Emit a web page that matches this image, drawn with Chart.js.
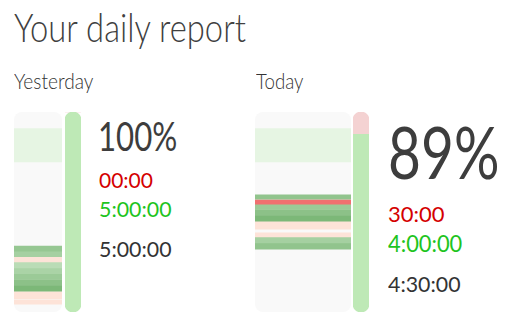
<!DOCTYPE html>
<html>
<head>
<meta charset="utf-8">
<script src="https://cdn.jsdelivr.net/npm/chart.js@4.4.1/dist/chart.umd.min.js"></script>
<style>
    body { margin: 0; background: #fff; font-family: Lato, sans-serif; color: #3a3a3a; }
    #page { position: relative; width: 512px; height: 320px; overflow: hidden; }
    .txt { position: absolute; white-space: nowrap; line-height: 1; transform-origin: 0 0; }
    .col { position: absolute; background: #f9f9f9; border-radius: 8px; overflow: hidden; }
    .bar { position: absolute; }
</style>
</head>
<body>
<div id="page">
    <div class="txt" style="left:14px;top:8px;font-size:39px;font-weight:300;color:#404040;transform:scaleX(0.84)">Your daily report</div>

    <div class="txt" id="label-0" style="left:14px;top:70px;font-size:21px;font-weight:300;color:#333;transform:scaleX(0.91)"></div>
    <div class="col" style="left:14px;top:112px;width:48px;height:200px"><canvas id="timeline-0"></canvas></div>
    <div class="bar" style="left:65px;top:112px;width:16px;height:200px"><canvas id="progress-0"></canvas></div>
    <div class="txt" id="pct-0" style="left:98px;top:116px;font-size:40px;color:#3d3d3d;transform:scaleX(0.78)"></div>
    <div class="txt" id="missed-0" style="left:99px;top:169px;font-size:21px;color:#d40000"></div>
    <div class="txt" id="done-0" style="left:99px;top:198px;font-size:22px;color:#1ec41e;transform:scaleX(0.97)"></div>
    <div class="txt" id="total-0" style="left:99px;top:238px;font-size:22px;color:#333;transform:scaleX(0.97)"></div>

    <div class="txt" id="label-1" style="left:256px;top:70px;font-size:21px;font-weight:300;color:#333;transform:scaleX(0.89)"></div>
    <div class="col" style="left:255px;top:112px;width:96px;height:200px"><canvas id="timeline-1"></canvas></div>
    <div class="bar" style="left:353px;top:112px;width:16px;height:200px"><canvas id="progress-1"></canvas></div>
    <div class="txt" id="pct-1" style="left:388px;top:116px;font-size:71px;color:#3d3d3d;transform:scaleX(0.8)"></div>
    <div class="txt" id="missed-1" style="left:388px;top:203px;font-size:22px;color:#d40000"></div>
    <div class="txt" id="done-1" style="left:388px;top:232px;font-size:23px;color:#1ec41e;transform:scaleX(0.95)"></div>
    <div class="txt" id="total-1" style="left:388px;top:273px;font-size:22px;color:#333;transform:scaleX(0.97)"></div>
</div>

<script>
// Days shown
const days = ['Yesterday', 'Today'];

// Hours worked and missed per day
const doneHours = [5, 4];
const missedHours = [0, 0.5];

// Timeline of the day, in hours from the top of the column (0 - 24)
const dayRange = [0, 24];
const goalWindow = [2, 6];

// Segments per day: start hour, end hour, kind, focus level (0 - 1)
const segStarts = [
    [16.1, 16.7, 17.45, 18.0, 18.7, 19.4, 20.1, 20.8, 21.55, 22.6],
    [9.95, 10.55, 11.05, 11.7, 12.4, 13.1, 14.5, 15.0, 15.7]
];
const segEnds = [
    [16.7, 17.35, 18.0, 18.7, 19.4, 20.1, 20.8, 21.5, 22.45, 23.05],
    [10.45, 11.05, 11.7, 12.4, 13.1, 14.05, 15.0, 15.7, 16.45]
];
const segKinds = [
    ['done', 'done', 'break', 'done', 'done', 'done', 'done', 'done', 'break', 'break'],
    ['done', 'missed', 'done', 'done', 'done', 'break', 'break', 'done', 'done']
];
const segLevels = [
    [0.55, 0.4, 0, 0.2, 0.35, 0.5, 0.65, 0.8, 0, 0],
    [0.6, 0, 0.5, 0.65, 0.8, 0, 0, 0.4, 0.6]
];

const colors = {
    goal: '#e6f5e3',
    break: '#fde3d8',
    missed: '#f07070',
    barDone: '#bee9b6',
    barMissed: '#f4d2d2'
};

function greenShade(level) {
    // mix from light green to deep green
    const a = [206, 232, 202], b = [104, 172, 100];
    const c = a.map((v, i) => Math.round(v + (b[i] - v) * level));
    return `rgb(${c[0]}, ${c[1]}, ${c[2]})`;
}

function segColor(kind, level) {
    if (kind === 'done') return greenShade(level);
    return colors[kind];
}

function formatTime(hours) {
    const total = Math.round(hours * 3600);
    const h = Math.floor(total / 3600);
    const m = Math.floor((total % 3600) / 60);
    const s = total % 60;
    const pad = n => String(n).padStart(2, '0');
    if (h === 0) return `${pad(m)}:${pad(s)}`;
    return `${h}:${pad(m)}:${pad(s)}`;
}

function createTimeline(idx) {
    const datasets = [{
        data: [goalWindow],
        backgroundColor: colors.goal
    }];
    segStarts[idx].forEach((start, i) => {
        datasets.push({
            data: [[start, segEnds[idx][i]]],
            backgroundColor: segColor(segKinds[idx][i], segLevels[idx][i])
        });
    });

    new Chart(document.getElementById('timeline-' + idx), {
        type: 'bar',
        data: { labels: [days[idx]], datasets: datasets },
        options: {
            responsive: true,
            maintainAspectRatio: false,
            animation: false,
            events: [],
            layout: { padding: 0 },
            datasets: {
                bar: { grouped: false, barPercentage: 1, categoryPercentage: 1, borderWidth: 0 }
            },
            plugins: { legend: { display: false }, tooltip: { enabled: false } },
            scales: {
                x: { display: false },
                y: { display: false, reverse: true, min: dayRange[0], max: dayRange[1] }
            }
        }
    });
}

function createProgress(idx) {
    const done = doneHours[idx];
    const missed = missedHours[idx];
    const r = 8;

    new Chart(document.getElementById('progress-' + idx), {
        type: 'bar',
        data: {
            labels: [days[idx]],
            datasets: [
                {
                    data: [[0, done]],
                    backgroundColor: colors.barDone,
                    borderRadius: () => ({
                        topLeft: missed > 0 ? 0 : r, topRight: missed > 0 ? 0 : r,
                        bottomLeft: r, bottomRight: r
                    })
                },
                {
                    data: [[done, done + missed]],
                    backgroundColor: colors.barMissed,
                    borderRadius: () => ({ topLeft: r, topRight: r, bottomLeft: 0, bottomRight: 0 })
                }
            ]
        },
        options: {
            responsive: true,
            maintainAspectRatio: false,
            animation: false,
            events: [],
            layout: { padding: 0 },
            datasets: {
                bar: { grouped: false, barPercentage: 1, categoryPercentage: 1, borderWidth: 0, borderSkipped: false }
            },
            plugins: { legend: { display: false }, tooltip: { enabled: false } },
            scales: {
                x: { display: false },
                y: { display: false, min: 0, max: done + missed }
            }
        }
    });
}

days.forEach((day, idx) => {
    const total = doneHours[idx] + missedHours[idx];
    document.getElementById('label-' + idx).textContent = day;
    document.getElementById('pct-' + idx).textContent = Math.round(doneHours[idx] / total * 100) + '%';
    document.getElementById('missed-' + idx).textContent = formatTime(missedHours[idx]);
    document.getElementById('done-' + idx).textContent = formatTime(doneHours[idx]);
    document.getElementById('total-' + idx).textContent = formatTime(total);
    createTimeline(idx);
    createProgress(idx);
});
</script>
</body>
</html>
